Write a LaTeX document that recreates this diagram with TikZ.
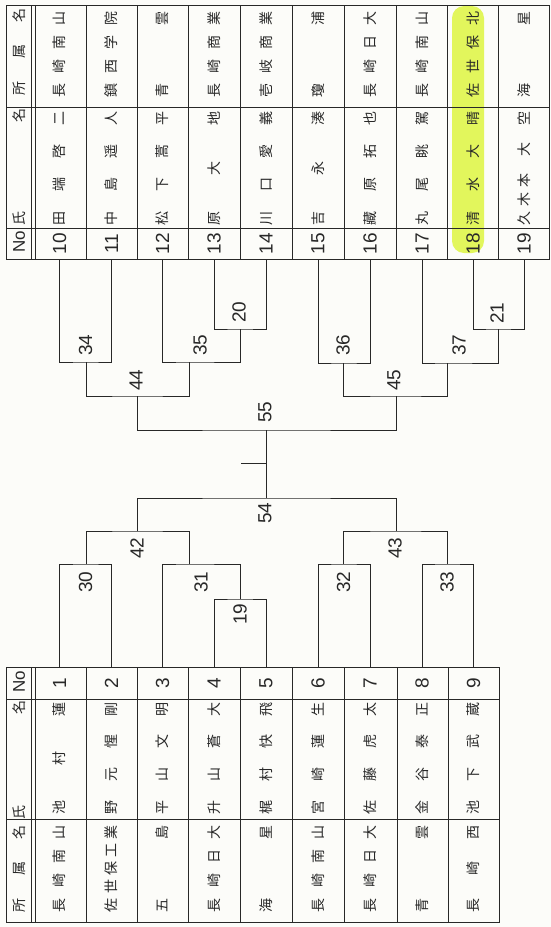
\documentclass[tikz,border=0pt]{standalone}
\usepackage{fontspec}
\newfontfamily\cjk{Noto Sans CJK JP}
\newfontfamily\numf{Liberation Sans}
\definecolor{ink}{RGB}{40,40,40}
\definecolor{hilite}{RGB}{226,246,92}
\definecolor{paper}{RGB}{252,252,249}
\newcommand{\SPR}[2]{\makebox[#1][s]{#2}}
\tikzset{
  cj/.style={rotate=90, inner sep=0pt, text=ink, font=\cjk\fontsize{14}{14}\selectfont},
  hd/.style={rotate=90, inner sep=0pt, text=ink, font=\cjk\fontsize{14}{14}\selectfont},
  nolab/.style={rotate=90, inner sep=0pt, text=ink, font=\numf\fontsize{17}{17}\selectfont},
  num/.style={rotate=90, inner sep=0pt, text=ink, font=\numf\fontsize{19}{19}\selectfont},
  grid/.style={draw=ink, line width=1pt},
  br/.style={draw=ink, line width=1pt}
}
\begin{document}
\begin{tikzpicture}[x=1pt, y=-1pt]
\useasboundingbox (0,0) rectangle (551,927);
\fill[paper] (0,0) rectangle (551,927);
% highlight of entry 18
\fill[hilite, rounded corners=12pt] (452,6) rectangle (484,253);

% ---------- top table (10-19) ----------
\draw[grid] (6,5) rectangle (549,259);
\foreach \xx in {31,35,86,137,188,240,292,344,396,447,498} \draw[grid] (\xx,5) -- (\xx,259);
\draw[grid] (6,107) -- (549,107);
\draw[grid] (6,228) -- (549,228);
\node[nolab] (thno) at (19,242) {No};
\node[hd] (thname) at (19,166.5) {\SPR{117pt}{氏\hfill 名}};
\node[hd] (thaff) at (19,51.5) {\SPR{87pt}{所\hfill 属\hfill 名}};
\foreach \x/\i/\aff/\nam in {
 59.5/10/{長\hfill 崎\hfill 南\hfill 山}/{田\hfill 端\hfill 啓\hfill 二},
 111.5/11/{鎮\hfill 西\hfill 学\hfill 院}/{中\hfill 島\hfill 遥\hfill 人},
 162.5/12/{青\hfill 雲}/{松\hfill 下\hfill 蒿\hfill 平},
 214/13/{長\hfill 崎\hfill 商\hfill 業}/{原\hfill 大\hfill 地},
 266/14/{壱\hfill 岐\hfill 商\hfill 業}/{川\hfill 口\hfill 愛\hfill 義},
 318/15/{瓊\hfill 浦}/{吉\hfill 永\hfill 湊},
 370/16/{長\hfill 崎\hfill 日\hfill 大}/{藏\hfill 原\hfill 拓\hfill 也},
 422/17/{長\hfill 崎\hfill 南\hfill 山}/{丸\hfill 尾\hfill 眺\hfill 駕},
 473/18/{佐\hfill 世\hfill 保\hfill 北}/{清\hfill 水\hfill 大\hfill 晴},
 524/19/{海\hfill 星}/{久\hspace{5pt}木\hspace{5pt}本\hfill 大\hfill 空}}{
  \node[cj] (ta\i) at (\x,54) {\SPR{86pt}{\aff}};
  \node[cj] (tn\i) at (\x,168) {\SPR{114pt}{\nam}};
  \node[num] (tno\i) at (\x,243.5) {\i};
}

% ---------- bottom table (1-9) ----------
\draw[grid] (6,667) rectangle (499,922);
\foreach \xx in {31,35,86,137,188,240,292,344,397,448} \draw[grid] (\xx,667) -- (\xx,922);
\draw[grid] (6,699) -- (499,699);
\draw[grid] (6,819) -- (499,819);
\node[nolab] (bhno) at (19,682) {No};
\node[hd] (bhname) at (19,759.5) {\SPR{119pt}{氏\hfill 名}};
\node[hd] (bhaff) at (19,868.5) {\SPR{87pt}{所\hfill 属\hfill 名}};
\foreach \x/\i/\aff/\nam in {
 59.5/1/{長\hfill 崎\hfill 南\hfill 山}/{池\hfill 村\hfill 蓮},
 111.5/2/{佐\hfill 世\hfill 保\hfill 工\hfill 業}/{野\hfill 元\hfill 惺\hfill 剛},
 162.5/3/{五\hfill 島}/{平\hfill 山\hfill 文\hfill 明},
 214/4/{長\hfill 崎\hfill 日\hfill 大}/{升\hfill 山\hfill 蒼\hfill 大},
 266/5/{海\hfill 星}/{梶\hfill 村\hfill 快\hfill 飛},
 318/6/{長\hfill 崎\hfill 南\hfill 山}/{宮\hfill 崎\hfill 蓮\hfill 生},
 370/7/{長\hfill 崎\hfill 日\hfill 大}/{佐\hfill 藤\hfill 虎\hfill 太},
 422/8/{青\hfill 雲}/{金\hfill 谷\hfill 泰\hfill 正},
 473.5/9/{長\hfill 崎\hfill 西}/{池\hfill 下\hfill 武\hfill 蔵}}{
  \node[cj] (ba\i) at (\x,868.5) {\SPR{87pt}{\aff}};
  \node[cj] (bn\i) at (\x,758) {\SPR{112pt}{\nam}};
  \node[num] (bno\i) at (\x,683) {\i};
}

% ---------- bracket coordinates ----------
\foreach \x/\i in {59.5/10,111.5/11,162.5/12,214/13,266/14,318/15,370/16,422/17,473/18,524/19}
  \coordinate (t\i) at (\x,259);
\foreach \x/\i in {59.5/1,111.5/2,162.5/3,214/4,266/5,318/6,370/7,422/8,473.5/9}
  \coordinate (b\i) at (\x,667);

% top half
\coordinate (m34) at (86,362);
\coordinate (m20) at (240,329);
\coordinate (m35) at (189,362);
\coordinate (m36) at (343.5,363);
\coordinate (m21) at (498,329);
\coordinate (m37) at (447,363);
\coordinate (m44) at (137,396);
\coordinate (m45) at (396,396);
\coordinate (m55) at (266,430);
% bottom half
\coordinate (m30) at (86,564);
\coordinate (m19) at (240,599);
\coordinate (m31) at (189,564);
\coordinate (m32) at (343.5,564);
\coordinate (m33) at (447,564);
\coordinate (m42) at (137,531);
\coordinate (m43) at (396,531);
\coordinate (m54) at (266,498);
\coordinate (tick) at (241,463);
\coordinate (tickend) at (266,463);

\draw[br] (t10) |- (m34) -| (t11);
\draw[br] (t13) |- (m20) -| (t14);
\draw[br] (t12) |- (m35) -| (m20);
\draw[br] (t15) |- (m36) -| (t16);
\draw[br] (t18) |- (m21) -| (t19);
\draw[br] (t17) |- (m37) -| (m21);
\draw[br] (m34) |- (m44) -| (m35);
\draw[br] (m36) |- (m45) -| (m37);
\draw[br] (m44) |- (m55) -| (m45);

\draw[br] (b1) |- (m30) -| (b2);
\draw[br] (b4) |- (m19) -| (b5);
\draw[br] (b3) |- (m31) -| (m19);
\draw[br] (b6) |- (m32) -| (b7);
\draw[br] (b8) |- (m33) -| (b9);
\draw[br] (m30) |- (m42) -| (m31);
\draw[br] (m32) |- (m43) -| (m33);
\draw[br] (m42) |- (m54) -| (m43);

\draw[br] (m55) -- (m54);
\draw[br] (tick) -- (tickend);

% match numbers
\node[num] (l34) at (85.5,345) {34};
\node[num] (l20) at (239,312) {20};
\node[num] (l35) at (200,345) {35};
\node[num] (l36) at (343,345) {36};
\node[num] (l21) at (497,313) {21};
\node[num] (l37) at (459,345) {37};
\node[num] (l44) at (136,380) {44};
\node[num] (l45) at (394,380) {45};
\node[num] (l55) at (265,412) {55};
\node[num] (l30) at (85.5,582) {30};
\node[num] (l19) at (240,614) {19};
\node[num] (l31) at (201,582) {31};
\node[num] (l32) at (343.5,582) {32};
\node[num] (l33) at (447,582) {33};
\node[num] (l42) at (137,548) {42};
\node[num] (l43) at (395,548) {43};
\node[num] (l54) at (265,513) {54};
\end{tikzpicture}
\end{document}
